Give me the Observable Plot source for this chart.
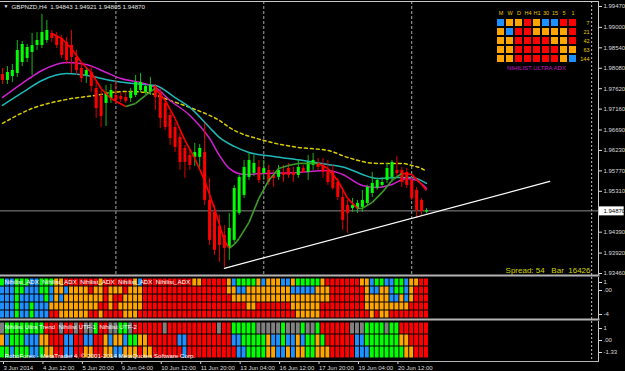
<!DOCTYPE html>
<html><head><meta charset="utf-8">
<script src="https://cdn.jsdelivr.net/npm/d3@7"></script>
<script src="https://cdn.jsdelivr.net/npm/@observablehq/plot@0.6"></script>
<style>
html,body{margin:0;padding:0;background:#000;}
#wrap{position:relative;width:625px;height:371px;background:#000;overflow:hidden;}
#wrap svg{position:absolute;left:0;}
#wrap svg text{white-space:pre;}
</style></head><body><div id="wrap"></div>
<script>
// ---------- DATA ----------
const symbolTitle = "GBPNZD,H4  1.94843 1.94921 1.94805 1.94870";
const opens = [1.97940,1.97805,1.97895,1.97963,1.98210,1.98300,1.98435,1.98593,1.98593,1.98705,
 1.98863,1.98795,1.98750,1.98660,1.98593,1.98323,1.98075,1.97918,1.97985,1.97625,
 1.97445,1.97288,1.97400,1.97468,1.97445,1.97423,1.97400,1.97468,1.97580,1.97535,
 1.97535,1.97670,1.97513,1.97288,1.97018,1.96748,1.96523,1.96275,1.96118,1.96073,
 1.96073,1.96185,1.95105,1.94835,1.94520,1.94318,1.94025,1.94205,1.94813,1.95218,
 1.95623,1.95713,1.95848,1.95713,1.95780,1.95668,1.95623,1.95735,1.95825,1.95735,
 1.95668,1.95825,1.95735,1.95893,1.95938,1.95893,1.95780,1.95735,1.95510,1.95173,
 1.94993,1.94925,1.94925,1.94948,1.95038,1.95263,1.95375,1.95443,1.95555,1.95623,
 1.95780,1.95780,1.95735,1.95555,1.95330,1.95105,1.94843];
const highs = [1.98075,1.98120,1.98165,1.98705,1.98683,1.98615,1.98863,1.98885,1.99290,1.99155,
 1.98930,1.98885,1.98818,1.98773,1.98930,1.98480,1.98165,1.98098,1.98120,1.97805,
 1.97580,1.97693,1.97715,1.97805,1.97535,1.97535,1.97625,1.97918,1.97963,1.97693,
 1.97873,1.97715,1.97625,1.97355,1.97085,1.96860,1.96613,1.96343,1.96230,1.96388,
 1.96365,1.96838,1.95600,1.94993,1.94768,1.94543,1.94813,1.95443,1.95668,1.96005,
 1.96163,1.96118,1.96005,1.96005,1.95893,1.95780,1.95893,1.95893,1.95938,1.95848,
 1.96005,1.95893,1.96118,1.96163,1.96050,1.96050,1.96005,1.95893,1.95600,1.95375,
 1.95105,1.95150,1.95105,1.95330,1.95443,1.95735,1.95600,1.95623,1.95938,1.96005,
 1.96095,1.95848,1.95825,1.95623,1.95398,1.95150,1.94921];
const lows = [1.97715,1.97715,1.97760,1.97873,1.98120,1.98210,1.97918,1.98480,1.98525,1.98638,
 1.98660,1.98525,1.98300,1.98165,1.97963,1.97918,1.97760,1.97738,1.97535,1.96950,
 1.96748,1.96770,1.97288,1.97265,1.97310,1.97288,1.97310,1.97423,1.97535,1.97490,
 1.97468,1.97130,1.96725,1.96680,1.96343,1.96185,1.95780,1.95600,1.95780,1.95870,
 1.95848,1.94993,1.94093,1.93868,1.93710,1.93598,1.93755,1.94138,1.94768,1.95150,
 1.95555,1.95645,1.95488,1.95555,1.95443,1.95398,1.95555,1.95510,1.95600,1.95510,
 1.95600,1.95713,1.95555,1.95780,1.95780,1.95600,1.95443,1.95330,1.95105,1.94430,
 1.94363,1.94835,1.94813,1.94835,1.94970,1.95173,1.95330,1.95398,1.95488,1.95510,
 1.95623,1.95398,1.95375,1.95105,1.94700,1.94768,1.94805];
const closes = [1.97805,1.97985,1.98030,1.98480,1.98615,1.98548,1.98593,1.98705,1.98885,1.98930,
 1.98750,1.98593,1.98368,1.98255,1.98323,1.98030,1.97850,1.98030,1.97670,1.97175,
 1.96995,1.97490,1.97580,1.97355,1.97378,1.97333,1.97535,1.97760,1.97760,1.97670,
 1.97693,1.97423,1.96950,1.96748,1.96500,1.96298,1.95960,1.95960,1.95893,1.96185,
 1.96275,1.95105,1.94205,1.93980,1.94093,1.94025,1.94475,1.95375,1.95623,1.95848,
 1.96005,1.95938,1.95555,1.95825,1.95510,1.95600,1.95780,1.95668,1.95668,1.95668,
 1.95848,1.95735,1.95960,1.96005,1.95848,1.95735,1.95510,1.95375,1.95173,1.94655,
 1.94813,1.94993,1.95038,1.95105,1.95398,1.95488,1.95555,1.95510,1.95825,1.95960,
 1.95713,1.95510,1.95443,1.95150,1.94880,1.94858,1.94870];

const slowIdx = [0,6,13,20,22,26,30,34,38,42,44,46,53,60,66,70,76,81,83,85,86];
const slowVal = [1.96838,1.97175,1.97378,1.97490,1.97535,1.97558,1.97513,1.97355,1.97198,1.97018,1.96905,1.96748,1.96455,1.96298,1.96230,1.96073,1.95938,1.95938,1.95893,1.95825,1.95760];
const cyanIdx = [0,4,8,13,18,22,26,31,35,38,42,44,47,50,55,61,66,70,73,76,80,83,86];
const cyanVal = [1.97243,1.97530,1.97805,1.97960,1.97900,1.97805,1.97740,1.97693,1.97420,1.97198,1.96748,1.96523,1.96320,1.96185,1.96095,1.96005,1.95915,1.95825,1.95690,1.95600,1.95623,1.95623,1.95490];
const magIdx = [0,4,8,13,17,21,24,28,31,34,38,42,44,46,49,53,60,66,69,73,76,79,82,84,86];
const magVal = [1.97423,1.97740,1.98030,1.98210,1.98165,1.97985,1.97850,1.97760,1.97648,1.97355,1.97018,1.96500,1.96118,1.95825,1.95690,1.95713,1.95735,1.95780,1.95690,1.95440,1.95398,1.95465,1.95600,1.95555,1.95375];
const fastIdx = [10,12,14,16,18,20,22,25,27,29,31,33,35,37,39,41,43,45,46,47,48,50,52,54,56,58,60,62,64,66,68,70,72,73,75,77,79,81,83,85,86];
const fastVal = [1.98863,1.98750,1.98525,1.98210,1.97985,1.97625,1.97400,1.97220,1.97288,1.97468,1.97625,1.97355,1.96950,1.96455,1.96050,1.95555,1.94925,1.94205,1.94025,1.94115,1.94250,1.94610,1.95150,1.95555,1.95825,1.95893,1.95938,1.95938,1.95938,1.95825,1.95555,1.95150,1.94925,1.94925,1.95060,1.95285,1.95555,1.95713,1.95690,1.95465,1.95330];
const fastDir = "RRRRRRRRGGGRRRRRRRRGGGGGGGGGGRRRRGGGGGRRR";

const trendIdx = [45, 111];
const trendVal = [1.93575, 1.95533];
const lastPrice = 1.94870;
const weekSeparators = [23, 53, 83];
const shiftLine = [119.5];
const priceTicks = [1.99470,1.99000,1.98540,1.98080,1.97620,1.97160,1.96690,1.96230,1.95770,1.95310,1.94390,1.93920,1.93460];
const xTickIdx = [0,8,16,24,32,40,48,56,64,72,80];
const xTickLabels = ["3 Jun 2014","4 Jun 12:00","5 Jun 20:00","9 Jun 04:00","10 Jun 12:00","11 Jun 20:00","13 Jun 04:00","16 Jun 12:00","17 Jun 20:00","19 Jun 04:00","20 Jun 12:00"];
const spread = 54, barCount = 16426;

// Nihilist ADX histogram rows (R red, O orange, B blue, G green, Y grey)
const adxRow1 = "GBBGGGBBGGG"+"OORRRRRRROR"+"RRRRROBRRRRRRRRRRO"+"ORRRRRO"+"BGGGGOB"+"OOOBBOGGGGGO"+"RRRRRRROOBGGBBGGBOORR";
const adxRow2 = "BBBGGBBBGGB"+"OOBOOOOROOR"+"OOOROOORRRRRRRRRRR"+"RRRRRRO"+"OBBOOOO"+"OOOOOBBBBBOO"+"ORRRRRRROBBOOBGGBORRR";
const adxRow3 = "BBBGBBBBBGB"+"OBOOOOOOOOR"+"ORROOOORRRRRRRRRRR"+"RRRRRRR"+"OOOOOOO"+"OOOOOOOOOOOO"+"ORRRRRRROOOOOBBOBORRR";
const adxRow4 = "BBBGBBGBBBO"+"OOOOOOOOORR"+"OROOOOORRRRRRRRRRR"+"RRRRRRR"+"RRROORR"+"RRRRROOOOOOR"+"RRRRRRRROOOOOOOOORRRR";
const adxRow5 = "BBBGBBGBBBR"+"ROOOOOORROR"+"RRROOORRRRRRRRRRRR"+"RRRRRRR"+"RRRRRRR"+"RRRRRROOOOOR"+"RRRRRRRRROROORRRRRRRR";
const utfRow1 = "YGGGGGGGGRR"+"RYRRYRYYGRR"+"YYGGYRRRRRRYRRRRRR"+"RRRRYRR"+"GGGGGYY"+"YYYGYYYGYYGR"+"RRRRRYYYGGGGYGGRRRRRR";
const utfRow2 = "OBGGGBBBOOR"+"RRBBRRBBRRO"+"BOOBGGOORRRRRRBBRR"+"RRRRRRR"+"BBGGGGG"+"OBBGBBOBGGOG"+"RRRRRRBBGGGGGGGOORRRR";
const utfRow3 = "GGBGGGBBGOO"+"RRBBRROORRO"+"OBBOOOROORRRRRRBRR"+"RRRRRRR"+"RBBGGGG"+"OOBBOBOOGGOO"+"ORRRRRBBBGGGGGGGOORRR";
const adxAxisLabels = ["1", ".00", "-4"];
const utfAxisLabels = ["1", ".00", "-1.33"];

// Nihilist Ultra ADX matrix
const tfLabels = ["M","W","D","H4","H1","30","15","5","1"];
const periodLabels = ["7","21","42","63","144"];
const matrixRows = ["BOOROBBRR","OBRROOOOR","OORRRROOR","OORRRRROO","OORRRRROB"];

// ---------- RENDER ----------
const COL = {R:"#ff0000", O:"#ffa500", B:"#1e90ff", G:"#00ff00", Y:"#808080"};
const FONT = "'Liberation Sans', Arial, sans-serif";
const wrap = document.getElementById("wrap");
const X = {type:"linear", domain:[-0.4057, 120.89], range:[0, 598], axis:null};
const baseStyle = {background:"transparent", color:"#dcdcdc", fontFamily:FONT, fontSize:"6px", overflow:"visible"};

const bars = opens.map((o,i)=>({i, o, h:highs[i], l:lows[i], c:closes[i], up: closes[i] >= o}));
const line = (idx, val) => idx.map((t,k)=>({t, v:val[k]}));
const fastSegs = fastIdx.slice(1).map((t,k)=>({t1:fastIdx[k], v1:fastVal[k], t2:t, v2:fastVal[k+1], c: fastDir[k+1]==="G" ? "#3c9e28" : "#ff0000"}));

const main = Plot.plot({
  width:625, height:276, marginTop:1, marginBottom:1, marginLeft:0, marginRight:27,
  style: baseStyle,
  x: X,
  y: {domain:[1.93460, 1.99470], range:[273, 6], axis:null},
  marks: [
    Plot.ruleX(weekSeparators, {x:d=>d, stroke:"#a8a8a8", strokeDasharray:"3,2"}),
    Plot.ruleX(shiftLine, {x:d=>d, stroke:"#c0c0c0", strokeDasharray:"2,2"}),
    Plot.ruleY([lastPrice], {y:d=>d, stroke:"#8a8a8a"}),
    Plot.line(line(slowIdx, slowVal), {x:"t", y:"v", curve:"monotone-x", stroke:"#d8cc00", strokeDasharray:"3,3"}),
    Plot.line(line(cyanIdx, cyanVal), {x:"t", y:"v", curve:"monotone-x", stroke:"#1fb8b8"}),
    Plot.line(line(magIdx, magVal), {x:"t", y:"v", curve:"monotone-x", stroke:"#d020d0"}),
    Plot.ruleX(bars, {x:"i", y1:"l", y2:"h", stroke:d=>d.up ? "#18b818" : "#e00000", strokeWidth:1}),
    Plot.ruleX(bars, {x:"i", y1:"o", y2:"c", stroke:d=>d.up ? "#00ff00" : "#ff0000", strokeWidth:3}),
    Plot.link(fastSegs, {x1:"t1", y1:"v1", x2:"t2", y2:"v2", stroke:"c", strokeWidth:1.6}),
    Plot.line(line(trendIdx, trendVal), {x:"t", y:"v", stroke:"#ffffff", strokeWidth:1.2}),
    Plot.text([symbolTitle], {frameAnchor:"top-left", dx:11, dy:3, fill:"#e8e8e8", fontSize:6.2}),
    Plot.text(["▼"], {frameAnchor:"top-left", dx:3, dy:3, fill:"#e8e8e8", fontSize:5}),
    Plot.text([`Spread: ${spread}   Bar  ${barCount}`], {frameAnchor:"bottom-right", dx:-8, dy:-3, fill:"#d4d400", fontSize:8}),
    Plot.axisY(priceTicks, {anchor:"right", label:null, tickSize:3, tickPadding:2, tickFormat:d=>d.toFixed(5), color:"#dcdcdc", fontSize:6}),
    Plot.ruleY([lastPrice], {y:d=>d, x1:121.0, x2:126.1, stroke:"#ffffff", strokeWidth:9}),
    Plot.text([lastPrice], {y:d=>d, frameAnchor:"right", dx:5, text:d=>d.toFixed(5), fill:"#000", textAnchor:"start", fontSize:6}),
    Plot.frame({anchor:"top", stroke:"#c8c8c8"}),
    Plot.frame({anchor:"right", stroke:"#c8c8c8"}),
    Plot.frame({anchor:"bottom", stroke:"#b4b4b4", strokeWidth:2})
  ]
});
main.style.top = "0px";
wrap.appendChild(main);

function cellsOf(rows){ return rows.flatMap((s,r)=>Array.from(s,(c,i)=>({i, r, c}))); }

const adx = Plot.plot({
  width:625, height:44, marginTop:1, marginBottom:1, marginLeft:0, marginRight:27,
  style: baseStyle,
  x: X,
  y: {type:"band", domain:[0,1,2,3,4], range:[1,42], padding:0, axis:null},
  marks: [
    Plot.ruleX(shiftLine, {x:d=>d, stroke:"#c0c0c0", strokeDasharray:"2,2"}),
    Plot.barX(cellsOf([adxRow1,adxRow2,adxRow3,adxRow4,adxRow5]), {x1:d=>d.i-0.5, x2:d=>d.i+0.5, y:"r", fill:d=>COL[d.c], inset:0.5}),
    Plot.text(["Nihilist_ADX  Nihilist_ADX  Nihilist_ADX  Nihilist_ADX  Nihilist_ADX"], {frameAnchor:"top-left", dx:4, dy:2, fill:"#ffffff", fontSize:6.2}),
    Plot.axisY([0,1,4], {anchor:"right", label:null, tickSize:3, tickPadding:2, tickFormat:(d)=>adxAxisLabels[[0,1,4].indexOf(d)], color:"#dcdcdc", fontSize:6}),
    Plot.frame({anchor:"right", stroke:"#c8c8c8"}),
    Plot.frame({anchor:"bottom", stroke:"#b4b4b4", strokeWidth:2})
  ]
});
adx.style.top = "276px";
wrap.appendChild(adx);

const utf = Plot.plot({
  width:625, height:51, marginTop:1, marginBottom:10, marginLeft:0, marginRight:27,
  style: baseStyle,
  x: X,
  y: {type:"band", domain:[0,1,2], range:[1,38], padding:0, axis:null},
  marks: [
    Plot.ruleX(shiftLine, {x:d=>d, stroke:"#c0c0c0", strokeDasharray:"2,2"}),
    Plot.barX(cellsOf([utfRow1,utfRow2,utfRow3]), {x1:d=>d.i-0.5, x2:d=>d.i+0.5, y:"r", fill:d=>COL[d.c], inset:0.5}),
    Plot.text(["Nihilist Ultra Trend  Nihilist UTF-1  Nihilist UTF-2"], {frameAnchor:"top-left", dx:4, dy:3, fill:"#ffffff", fontSize:6.2}),
    Plot.text(["RoboForex - MetaTrader 4, © 2001-2014 MetaQuotes Software Corp."], {frameAnchor:"bottom-left", dx:4, dy:-4, fill:"#ffffff", fontSize:6.2}),
    Plot.axisY([0,1,2], {anchor:"right", label:null, tickSize:3, tickPadding:2, tickFormat:(d)=>utfAxisLabels[d], color:"#dcdcdc", fontSize:6}),
    Plot.axisX(xTickIdx, {anchor:"bottom", label:null, tickSize:3, tickPadding:1, textAnchor:"start", dx:1, tickFormat:d=>xTickLabels[xTickIdx.indexOf(d)], color:"#dcdcdc", fontSize:6}),
    Plot.frame({anchor:"right", stroke:"#c8c8c8"}),
    Plot.frame({anchor:"bottom", stroke:"#b4b4b4"})
  ]
});
utf.style.top = "320px";
wrap.appendChild(utf);

const matrixCells = matrixRows.flatMap((s,r)=>Array.from(s,(c,k)=>({tf:tfLabels[k], p:periodLabels[r], c})));
const mtx = Plot.plot({
  width:105, height:74, marginTop:16, marginBottom:10, marginLeft:6, marginRight:15,
  style: baseStyle,
  x: {type:"band", domain:tfLabels, padding:0, axis:null},
  y: {type:"band", domain:periodLabels, padding:0, axis:null},
  marks: [
    Plot.cell(matrixCells, {x:"tf", y:"p", fill:d=>COL[d.c], inset:1}),
    Plot.axisX({anchor:"top", label:null, tickSize:0, tickPadding:2, color:"#e8c800", fontSize:5.5}),
    Plot.axisY({anchor:"right", label:null, tickSize:0, tickPadding:0, textAnchor:"end", dx:11, color:"#e8d000", fontSize:5.5}),
    Plot.text(["NIHILIST ULTRA ADX"], {frameAnchor:"bottom", dy:5, fill:"#c818c8", fontSize:6})
  ]
});
mtx.style.left = "488px";
mtx.style.top = "0px";
wrap.appendChild(mtx);
</script></body></html>
